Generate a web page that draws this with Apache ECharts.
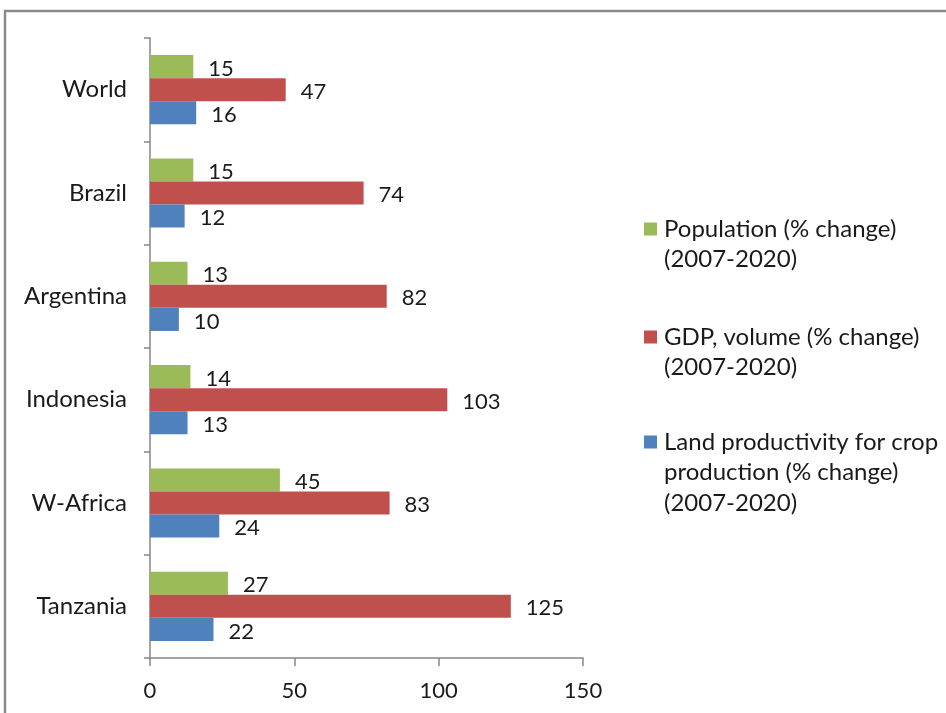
<!DOCTYPE html>
<html>
<head>
<meta charset="utf-8">
<script src="https://cdn.jsdelivr.net/npm/echarts@6/dist/echarts.min.js"></script>
<style>
  html, body { margin: 0; padding: 0; background: #fff; }
  #chart { width: 946px; height: 713px; }
</style>
</head>
<body>
<div id="chart"></div>
<script>
// Regions, top to bottom
const regions = ['World', 'Brazil', 'Argentina', 'Indonesia', 'W-Africa', 'Tanzania'];

// % change 2007-2020
const population = [15, 15, 13, 14, 45, 27];
const gdpVolume = [47, 74, 82, 103, 83, 125];
const landProductivity = [16, 12, 10, 13, 24, 22];

const xTicks = [0, 50, 100, 150];

const seriesNames = [
  'Population (% change)\n(2007-2020)',
  'GDP, volume (% change)\n(2007-2020)',
  'Land productivity for crop\nproduction (% change)\n(2007-2020)'
];
const seriesColors = ['#9BBB59', '#C0504D', '#4F81BD'];

const FONT = 'Lato, "Open Sans", sans-serif';
const TEXT_SIZE = 24;   // words
const NUM_SIZE = 22;    // numbers
const TEXT_COLOR = '#1a1a1a';
const LINE_H = 30.5;

// Legend marker: a square next to the first text line, padded to the height of the text block
function legendIcon(lines) {
  const h = lines * LINE_H;
  const top = (LINE_H - 13) / 2;
  return 'path://M0,0L0.01,0M0,' + top + 'h13v13h-13zM0,' + h + 'L0.01,' + h;
}

function makeLegend(i, top) {
  const lines = seriesNames[i].split('\n').length;
  return {
    data: [seriesNames[i]],
    left: 644,
    top: top,
    orient: 'vertical',
    itemWidth: 13,
    itemHeight: lines * LINE_H,
    itemGap: 0,
    padding: 0,
    icon: legendIcon(lines),
    selectedMode: false,
    textStyle: {
      fontFamily: FONT,
      fontSize: TEXT_SIZE,
      color: TEXT_COLOR,
      lineHeight: LINE_H,
      padding: [0, 0, 0, 2]
    }
  };
}

function barSeries(i, values) {
  return {
    name: seriesNames[i],
    type: 'bar',
    data: values,
    barGap: '0%',
    barCategoryGap: '33%',
    itemStyle: { color: seriesColors[i] },
    label: {
      show: true,
      position: 'right',
      distance: 15,
      offset: [0, 2],
      fontFamily: FONT,
      fontSize: NUM_SIZE,
      color: TEXT_COLOR
    },
    animation: false
  };
}

const chart = echarts.init(document.getElementById('chart'), null, { renderer: 'canvas' });

chart.setOption({
  backgroundColor: '#ffffff',
  animation: false,
  grid: { left: 150, top: 38, right: 363, bottom: 55, containLabel: false },
  legend: [
    makeLegend(0, 229 - LINE_H / 2),
    makeLegend(1, 337 - LINE_H / 2),
    makeLegend(2, 442 - LINE_H / 2)
  ],
  xAxis: {
    type: 'value',
    min: xTicks[0],
    max: xTicks[xTicks.length - 1],
    interval: xTicks[1] - xTicks[0],
    axisLine: { show: true, lineStyle: { color: '#868686', width: 1.5 } },
    axisTick: { show: true, length: 8, lineStyle: { color: '#868686', width: 1.5 } },
    splitLine: { show: false },
    axisLabel: { fontFamily: FONT, fontSize: NUM_SIZE, color: TEXT_COLOR, margin: 22 }
  },
  yAxis: {
    type: 'category',
    data: regions,
    inverse: true,
    axisLine: { show: true, lineStyle: { color: '#868686', width: 1.5 } },
    axisTick: { show: true, length: 6, lineStyle: { color: '#868686', width: 1.5 } },
    axisLabel: { fontFamily: FONT, fontSize: TEXT_SIZE, color: TEXT_COLOR, margin: 23 }
  },
  series: [
    barSeries(0, population),
    barSeries(1, gdpVolume),
    barSeries(2, landProductivity)
  ],
  graphic: [
    {
      type: 'rect',
      silent: true,
      shape: { x: 5, y: 11, width: 1200, height: 1200 },
      style: { fill: 'none', stroke: '#8a8a8a', lineWidth: 2.5 }
    }
  ]
});
</script>
</body>
</html>
